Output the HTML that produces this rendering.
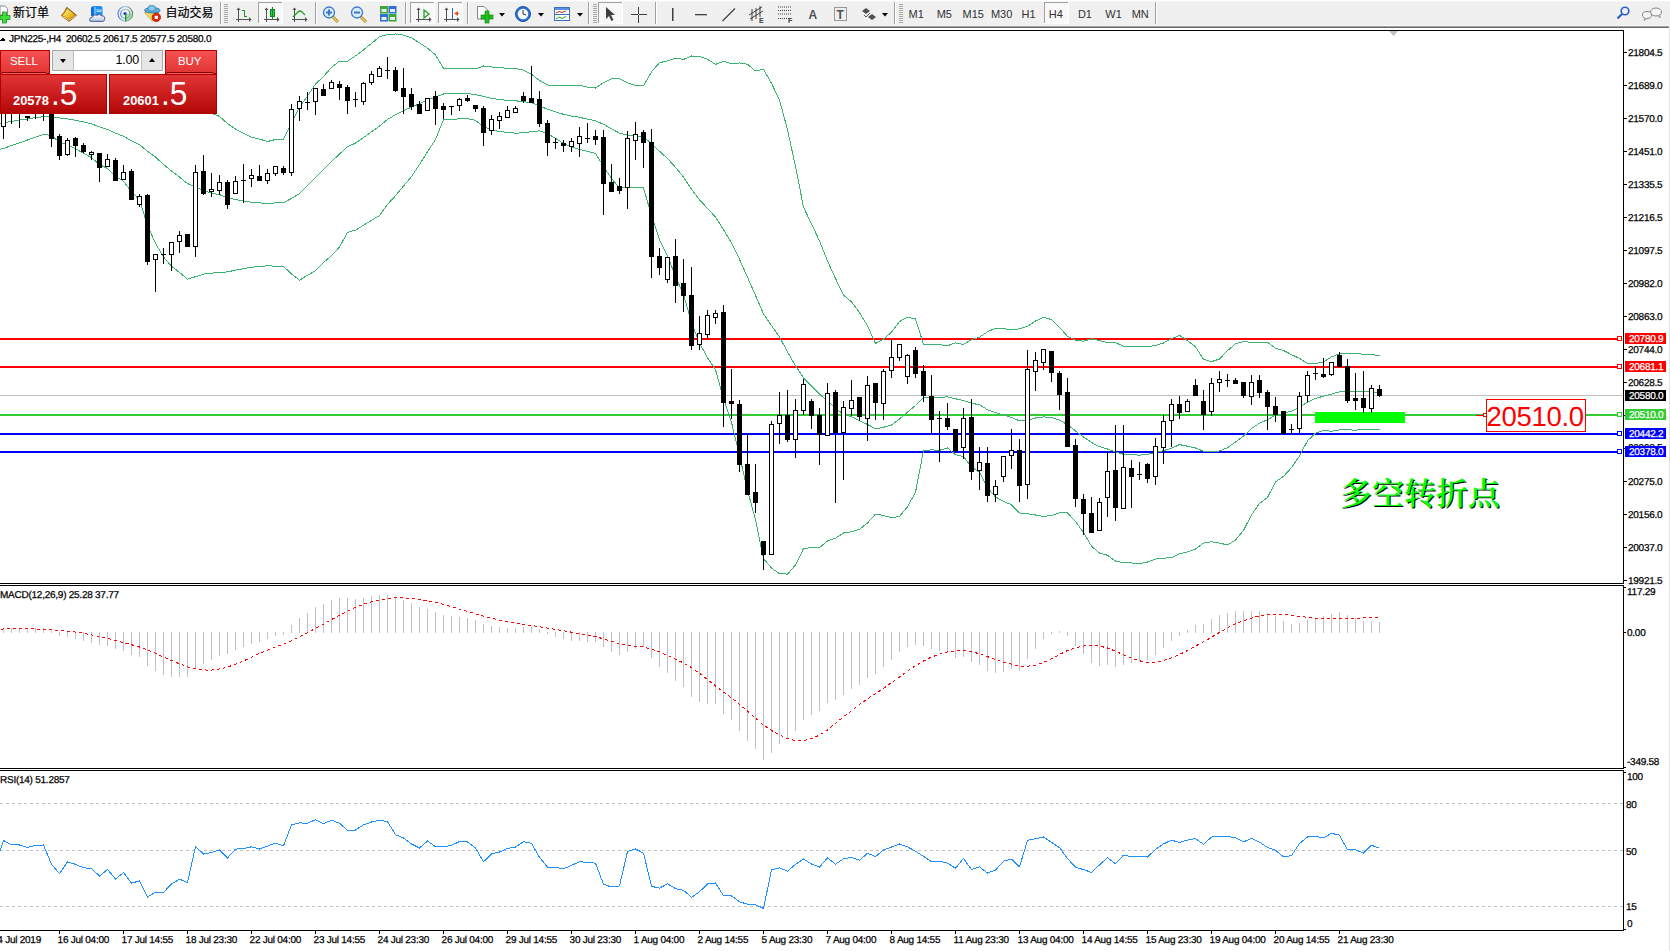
<!DOCTYPE html>
<html><head><meta charset="utf-8"><title>JPN225 H4</title>
<style>
html,body{margin:0;padding:0}
body{width:1670px;height:951px;overflow:hidden;background:#fff;position:relative;font-family:"Liberation Sans","Noto Sans CJK SC",sans-serif}
#tb{position:absolute;left:0;top:0;width:1670px;height:28px;background:#f0f0f0}
#chart{position:absolute;left:0;top:0}
#chart text{font-family:"Liberation Sans",sans-serif;font-size:10px;letter-spacing:-0.25px;fill:#000;stroke:#000;stroke-width:0.25px}
#tbs text.cj{font-family:"Liberation Sans","Noto Sans CJK SC",sans-serif;font-size:12px;fill:#000;stroke:#000;stroke-width:0.2px}
#tbs text.tf{font-family:"Liberation Sans",sans-serif;font-size:11px;fill:#303030}
#tbs text.tbs{font-family:"Liberation Sans",sans-serif;font-size:7px;font-weight:bold;fill:#404040}
#tbs text.tba{font-family:"Liberation Sans",sans-serif;font-size:12px;font-weight:bold;fill:#505050}

#pn{position:absolute;left:0;top:50px;width:217px;height:64px;background:#fff;font-family:"Liberation Sans",sans-serif;color:#fff}
#pn .sb{position:absolute;top:0;height:24px;background:linear-gradient(#f75252,#e23434);box-shadow:inset 0 0 0 1px #b40000}
#pn .sell{left:0;width:50px}
#pn .buy{left:165px;width:52px}
#pn .sb span{position:absolute;top:5px;font-size:11.5px;letter-spacing:-0.1px}
#pn .sell span{left:10px}
#pn .buy span{left:13px}
#pn .sb i{position:absolute;left:2px;right:4px;top:22px;height:1px;background:#8a0000;box-shadow:0 1px 0 #f06060}
#pn .spin{position:absolute;left:52px;top:0;width:111px;height:21px;border:1px solid #a8a8a8;box-sizing:border-box;background:#fff}
#pn .bl,#pn .br{position:absolute;top:0;width:20px;height:19px;background:#e6e6e6}
#pn .bl{left:0;border-right:1px solid #c0c0c0}
#pn .br{right:0;border-left:1px solid #c0c0c0}
#pn .dn{position:absolute;left:7px;top:8px;width:0;height:0;border-left:3.5px solid transparent;border-right:3.5px solid transparent;border-top:4px solid #000}
#pn .up{position:absolute;left:7px;top:7px;width:0;height:0;border-left:3.5px solid transparent;border-right:3.5px solid transparent;border-bottom:4px solid #000}
#pn .inp{position:absolute;left:21px;width:65px;top:2px;text-align:right;color:#000;font-size:12.5px;letter-spacing:-0.2px}
#pn .big{position:absolute;top:24px;height:40px;background:linear-gradient(#e33636,#b20606);box-shadow:inset 0 0 0 1px #b00000}
#pn .big.l{left:0;width:107px}
#pn .big.r{left:109px;width:108px}
#pn .n{position:absolute;top:19.2px;font-size:12.9px;font-weight:bold}
#pn .d{position:absolute;top:-0.5px;font-size:34px;transform:scaleX(0.93);transform-origin:0 0}
#pn .l .n{left:13px} #pn .l .d{left:50.5px}
#pn .r .n{left:14px} #pn .r .d{left:52px}

.rc{position:absolute;right:0;top:28px;width:1px;height:923px;background:#e3e3e3}
</style></head><body>
<div id="tb"><svg id="tbs" width="1670" height="28" shape-rendering="geometricPrecision"><rect x="0" y="0" width="1670" height="1" fill="#ffffff"/>
<rect x="0" y="1" width="1670" height="1" fill="#f6f6f6"/>
<rect x="0" y="25" width="1670" height="1" fill="#f7f7f7"/>
<rect x="0" y="26" width="1669" height="1" fill="#a0a0a0"/>
<rect x="0" y="27" width="1669" height="1" fill="#6a6a6a"/>
<path d="M0,6 L5,6 L7.5,8.5 L7.5,15 L0,15 Z" fill="#fff" stroke="#909090" stroke-width="1"/>
<rect x="0" y="15.5" width="10" height="4" fill="#1ec31e" stroke="#0a7a0a" stroke-width="0.6"/><rect x="2.5" y="12" width="4" height="11" fill="#1ec31e" stroke="#0a7a0a" stroke-width="0.6"/><rect x="0.5" y="16" width="9" height="3" fill="#3ee03e"/><rect x="3" y="12.5" width="3" height="10" fill="#3ee03e"/>
<defs><linearGradient id="bkg" x1="0" y1="0" x2="1" y2="1"><stop offset="0" stop-color="#fff2a0"/><stop offset="0.5" stop-color="#f0c830"/><stop offset="1" stop-color="#d8a010"/></linearGradient><linearGradient id="clg" x1="0" y1="0" x2="0" y2="1"><stop offset="0" stop-color="#ffffff"/><stop offset="1" stop-color="#b8c4dc"/></linearGradient></defs>
<path d="M61.3,15.6 L64.6,11.8 L66.7,7.3 L76.6,15.3 L69,21.4 Z" fill="#b07818" stroke="#9a5a08" stroke-width="0.9" stroke-linejoin="round"/>
<path d="M62.6,15.2 L65.4,12 L67.2,8.8 L74.6,14.8 L68.6,19.2 Z" fill="url(#bkg)"/>
<path d="M62.5,16.2 L68.8,20.4 L75.6,15.6" fill="none" stroke="#e8d8a0" stroke-width="0.9"/>
<path d="M91,7.5 L93,6 L101,6 L102.5,7.5 L102.5,16 L91,16 Z" fill="#1f8ef0"/><path d="M91,7.5 L94.5,7.5 L94.5,16 L91,16 Z" fill="#0c6fd8"/><rect x="94.5" y="7" width="0.8" height="9" fill="#d8f0ff"/><rect x="96.5" y="10.5" width="5" height="1.2" fill="#e8f6ff"/><rect x="95.5" y="9" width="6.5" height="0.8" fill="#6cc0ff"/>
<path d="M90,21.2 Q88.6,17.4 92.4,17.2 Q93.6,14.2 97.2,15.2 Q99.6,13.4 101.6,15.8 Q105.4,15.8 104.6,19.6 Q104.4,21.2 102.6,21.4 Z" fill="url(#clg)" stroke="#3c5a98" stroke-width="1"/>
<defs><linearGradient id="sgg" x1="0" y1="0" x2="1" y2="0"><stop offset="0" stop-color="#4a7ad8"/><stop offset="0.5" stop-color="#a8c8e8"/><stop offset="1" stop-color="#3a8a5a"/></linearGradient></defs>
<circle cx="125.3" cy="13.8" r="7.3" fill="none" stroke="url(#sgg)" stroke-width="1.1"/><circle cx="125.3" cy="13.8" r="4.6" fill="none" stroke="url(#sgg)" stroke-width="1.1"/>
<path d="M125.3,13.8 L125.3,21.1 A7.3,7.3 0 0 0 132.6,13.8 Z" fill="#8cc890" opacity="0.55"/>
<circle cx="125" cy="13.6" r="1.7" fill="#2050c8"/><rect x="125" y="14" width="1.4" height="7.6" fill="#18a018"/>
<path d="M144.5,12.5 L159,12.5 L152.5,21.5 Z" fill="#f6e060" stroke="#c8a028" stroke-width="0.8" stroke-linejoin="round"/>
<ellipse cx="152.3" cy="10.3" rx="7.8" ry="2.7" fill="#5cb0e0" stroke="#2a78a8" stroke-width="0.9"/><ellipse cx="151.8" cy="8.4" rx="3.9" ry="3" fill="#84c8f0" stroke="#2a78a8" stroke-width="0.8"/>
<circle cx="156.3" cy="17.4" r="4.2" fill="#e02a10" stroke="#b01000" stroke-width="0.8"/><rect x="154.7" y="15.8" width="3.2" height="3.2" fill="#fff"/>
<text x="13" y="17" class="cj">新订单</text>
<text x="165.5" y="17" class="cj">自动交易</text>
<rect x="220" y="2" width="1" height="22" fill="#a0a0a0"/><rect x="221" y="2" width="1" height="22" fill="#fff"/>
<rect x="224" y="4" width="4" height="1" fill="#a8a8a8"/>
<rect x="224" y="6" width="4" height="1" fill="#a8a8a8"/>
<rect x="224" y="8" width="4" height="1" fill="#a8a8a8"/>
<rect x="224" y="10" width="4" height="1" fill="#a8a8a8"/>
<rect x="224" y="12" width="4" height="1" fill="#a8a8a8"/>
<rect x="224" y="14" width="4" height="1" fill="#a8a8a8"/>
<rect x="224" y="16" width="4" height="1" fill="#a8a8a8"/>
<rect x="224" y="18" width="4" height="1" fill="#a8a8a8"/>
<rect x="224" y="20" width="4" height="1" fill="#a8a8a8"/>
<rect x="224" y="22" width="4" height="1" fill="#a8a8a8"/>
<rect x="238" y="8" width="1" height="14" fill="#505050"/><rect x="236" y="19" width="14" height="1" fill="#505050"/>
<path d="M236.5,10 L238.5,7.5 L240.5,10 Z" fill="#505050"/>
<path d="M249,17 L251.5,19.5 L249,22 Z" fill="#505050"/>
<rect x="244" y="10" width="1" height="7" fill="#1a9a1a"/><rect x="242" y="10" width="2" height="1" fill="#1a9a1a"/><rect x="245" y="16" width="2" height="1" fill="#1a9a1a"/>
<rect x="258" y="2" width="25" height="22" fill="#f8f8f8"/>
<rect x="258" y="2" width="25" height="1" fill="#a0a0a0"/><rect x="258" y="2" width="1" height="22" fill="#a0a0a0"/>
<rect x="258" y="23" width="25" height="1" fill="#fff"/><rect x="282" y="2" width="1" height="22" fill="#fff"/>
<rect x="266" y="8" width="1" height="14" fill="#505050"/><rect x="264" y="19" width="14" height="1" fill="#505050"/>
<path d="M264.5,10 L266.5,7.5 L268.5,10 Z" fill="#505050"/>
<path d="M277,17 L279.5,19.5 L277,22 Z" fill="#505050"/>
<rect x="270.5" y="9.5" width="4" height="7" fill="#20d040" stroke="#108a20" stroke-width="1"/><rect x="272" y="7" width="1" height="13" fill="#108a20"/>
<rect x="294" y="8" width="1" height="14" fill="#505050"/><rect x="292" y="19" width="14" height="1" fill="#505050"/>
<path d="M292.5,10 L294.5,7.5 L296.5,10 Z" fill="#505050"/>
<path d="M305,17 L307.5,19.5 L305,22 Z" fill="#505050"/>
<path d="M293,17 L298,12 Q300,10 302,12 L305,15" fill="none" stroke="#20a020" stroke-width="1.2"/>
<rect x="315" y="2" width="1" height="22" fill="#a0a0a0"/><rect x="316" y="2" width="1" height="22" fill="#fff"/>

<line x1="332" y1="16" x2="338" y2="22" stroke="#a08020" stroke-width="3"/><line x1="332" y1="16" x2="338" y2="22" stroke="#f0d060" stroke-width="1.5"/>
<circle cx="329" cy="12.5" r="5.5" fill="#d8ecfa" stroke="#3c78c8" stroke-width="1.3"/>
<rect x="326" y="11.5" width="6" height="2" fill="#3c78c8"/>
<rect x="328" y="9.5" width="2" height="6" fill="#3c78c8"/>

<line x1="360" y1="16" x2="366" y2="22" stroke="#a08020" stroke-width="3"/><line x1="360" y1="16" x2="366" y2="22" stroke="#f0d060" stroke-width="1.5"/>
<circle cx="357" cy="12.5" r="5.5" fill="#d8ecfa" stroke="#3c78c8" stroke-width="1.3"/>
<rect x="354" y="11.5" width="6" height="2" fill="#3c78c8"/>
<rect x="380" y="6" width="8" height="7.5" fill="#3aa83a"/><rect x="388.5" y="6" width="8" height="7.5" fill="#2f6fd8"/><rect x="380" y="14" width="8" height="7.5" fill="#2f6fd8"/><rect x="388.5" y="14" width="8" height="7.5" fill="#3aa83a"/>
<rect x="381.5" y="9" width="5" height="3" fill="#e8f0e8"/>
<rect x="390" y="9" width="5" height="3" fill="#e8f0e8"/>
<rect x="381.5" y="17" width="5" height="3" fill="#e8f0e8"/>
<rect x="390" y="17" width="5" height="3" fill="#e8f0e8"/>
<rect x="405" y="2" width="1" height="22" fill="#a0a0a0"/><rect x="406" y="2" width="1" height="22" fill="#fff"/>
<rect x="410" y="2" width="25" height="22" fill="#f8f8f8"/>
<rect x="410" y="2" width="25" height="1" fill="#a0a0a0"/><rect x="410" y="2" width="1" height="22" fill="#a0a0a0"/>
<rect x="410" y="23" width="25" height="1" fill="#fff"/><rect x="434" y="2" width="1" height="22" fill="#fff"/>
<rect x="418" y="8" width="1" height="14" fill="#505050"/><rect x="416" y="19" width="14" height="1" fill="#505050"/>
<path d="M416.5,10 L418.5,7.5 L420.5,10 Z" fill="#505050"/>
<path d="M429,17 L431.5,19.5 L429,22 Z" fill="#505050"/>
<path d="M424,10 L429,14 L424,18 Z" fill="none" stroke="#20a020" stroke-width="1.3"/>
<rect x="438" y="2" width="25" height="22" fill="#f8f8f8"/>
<rect x="438" y="2" width="25" height="1" fill="#a0a0a0"/><rect x="438" y="2" width="1" height="22" fill="#a0a0a0"/>
<rect x="438" y="23" width="25" height="1" fill="#fff"/><rect x="462" y="2" width="1" height="22" fill="#fff"/>
<rect x="446" y="8" width="1" height="14" fill="#505050"/><rect x="444" y="19" width="14" height="1" fill="#505050"/>
<path d="M444.5,10 L446.5,7.5 L448.5,10 Z" fill="#505050"/>
<path d="M457,17 L459.5,19.5 L457,22 Z" fill="#505050"/>
<rect x="452" y="8" width="1" height="11" fill="#2a6ab8"/><path d="M454,13.5 L458,11 L458,16 Z" fill="#e06010"/><rect x="457" y="13" width="2" height="1" fill="#e06010"/>
<rect x="467" y="2" width="1" height="22" fill="#a0a0a0"/><rect x="468" y="2" width="1" height="22" fill="#fff"/>
<path d="M477.5,6.5 L484,6.5 L487.5,10 L487.5,19 L477.5,19 Z" fill="#fff" stroke="#808080" stroke-width="1"/>
<rect x="481" y="15" width="12" height="4" fill="#1ec31e" stroke="#0a7a0a" stroke-width="0.6"/><rect x="485" y="11" width="4" height="12" fill="#1ec31e" stroke="#0a7a0a" stroke-width="0.6"/>
<path d="M499,13 L505,13 L502,16.5 Z" fill="#000"/>
<circle cx="523" cy="14" r="7.5" fill="#2a70d0" stroke="#1a50a0" stroke-width="1"/><circle cx="523" cy="14" r="5.3" fill="#f4f8ff"/><path d="M523,10 L523,14 L526,15" fill="none" stroke="#333" stroke-width="1"/>
<path d="M538,13 L544,13 L541,16.5 Z" fill="#000"/>
<rect x="554.5" y="7.5" width="15" height="13" fill="#fff" stroke="#3a70c0" stroke-width="1"/><rect x="555" y="8" width="14" height="2" fill="#5a90e0"/><rect x="555" y="14" width="14" height="1" fill="#3a70c0"/>
<path d="M556,13 L559,11.5 L562,12.5 L566,11" fill="none" stroke="#c03020" stroke-width="1"/><path d="M556,19 L559,17 L562,18.5 L566,16.5" fill="none" stroke="#20a020" stroke-width="1"/>
<path d="M577,13 L583,13 L580,16.5 Z" fill="#000"/>
<rect x="588" y="2" width="1" height="22" fill="#a0a0a0"/><rect x="589" y="2" width="1" height="22" fill="#fff"/>
<rect x="593" y="4" width="4" height="1" fill="#a8a8a8"/>
<rect x="593" y="6" width="4" height="1" fill="#a8a8a8"/>
<rect x="593" y="8" width="4" height="1" fill="#a8a8a8"/>
<rect x="593" y="10" width="4" height="1" fill="#a8a8a8"/>
<rect x="593" y="12" width="4" height="1" fill="#a8a8a8"/>
<rect x="593" y="14" width="4" height="1" fill="#a8a8a8"/>
<rect x="593" y="16" width="4" height="1" fill="#a8a8a8"/>
<rect x="593" y="18" width="4" height="1" fill="#a8a8a8"/>
<rect x="593" y="20" width="4" height="1" fill="#a8a8a8"/>
<rect x="593" y="22" width="4" height="1" fill="#a8a8a8"/>
<rect x="598" y="2" width="25" height="22" fill="#f8f8f8"/>
<rect x="598" y="2" width="25" height="1" fill="#a0a0a0"/><rect x="598" y="2" width="1" height="22" fill="#a0a0a0"/>
<rect x="598" y="23" width="25" height="1" fill="#fff"/><rect x="622" y="2" width="1" height="22" fill="#fff"/>
<path d="M606,7 L606,19 L609,16 L611.5,21 L613.5,20 L611,15 L615,15 Z" fill="#404040"/>
<rect x="638" y="7" width="1" height="16" fill="#404040"/><rect x="631" y="14" width="16" height="1" fill="#404040"/><rect x="638" y="14" width="1" height="1" fill="#f0f0f0"/>
<rect x="655" y="2" width="1" height="22" fill="#a0a0a0"/><rect x="656" y="2" width="1" height="22" fill="#fff"/>
<rect x="672" y="8" width="1.5" height="13" fill="#404040"/>
<rect x="695" y="14" width="12" height="1.3" fill="#404040"/>
<line x1="722.5" y1="21" x2="735" y2="8.5" stroke="#404040" stroke-width="1.2"/>
<path d="M749,15 L762,7 M750,19 L763,11 M752,9 L752,21 M756,8 L756,19 M760,6 L760,17" fill="none" stroke="#404040" stroke-width="1"/>
<text x="759" y="23" class="tbs">E</text>
<line x1="778" y1="7" x2="791" y2="7" stroke="#404040" stroke-width="1" stroke-dasharray="1 1"/>
<line x1="778" y1="10.5" x2="791" y2="10.5" stroke="#404040" stroke-width="1" stroke-dasharray="1 1"/>
<line x1="778" y1="14" x2="791" y2="14" stroke="#404040" stroke-width="1" stroke-dasharray="1 1"/>
<line x1="778" y1="18.5" x2="791" y2="18.5" stroke="#404040" stroke-width="1" stroke-dasharray="1 1"/>
<text x="788" y="23" class="tbs">F</text>
<text x="808.5" y="19" class="tba">A</text>
<rect x="834.5" y="7.5" width="12" height="13" fill="none" stroke="#404040" stroke-width="1" stroke-dasharray="1 1"/><text x="836.5" y="19" class="tba">T</text>
<path d="M862,11 L866,8 L870,11 L866,14 Z M868,17 L872,14 L876,17 L872,20 Z" fill="#505050"/><path d="M864,15 L866,17 L870,13" fill="none" stroke="#505050" stroke-width="1"/>
<path d="M882,13 L888,13 L885,16.5 Z" fill="#000"/>
<rect x="894" y="2" width="1" height="22" fill="#a0a0a0"/><rect x="895" y="2" width="1" height="22" fill="#fff"/>
<rect x="899" y="4" width="4" height="1" fill="#a8a8a8"/>
<rect x="899" y="6" width="4" height="1" fill="#a8a8a8"/>
<rect x="899" y="8" width="4" height="1" fill="#a8a8a8"/>
<rect x="899" y="10" width="4" height="1" fill="#a8a8a8"/>
<rect x="899" y="12" width="4" height="1" fill="#a8a8a8"/>
<rect x="899" y="14" width="4" height="1" fill="#a8a8a8"/>
<rect x="899" y="16" width="4" height="1" fill="#a8a8a8"/>
<rect x="899" y="18" width="4" height="1" fill="#a8a8a8"/>
<rect x="899" y="20" width="4" height="1" fill="#a8a8a8"/>
<rect x="899" y="22" width="4" height="1" fill="#a8a8a8"/>
<rect x="1044" y="2" width="25" height="22" fill="#f8f8f8"/>
<rect x="1044" y="2" width="25" height="1" fill="#a0a0a0"/><rect x="1044" y="2" width="1" height="22" fill="#a0a0a0"/>
<rect x="1044" y="23" width="25" height="1" fill="#fff"/><rect x="1068" y="2" width="1" height="22" fill="#fff"/>
<text x="908.6" y="18" class="tf">M1</text>
<text x="936.7" y="18" class="tf">M5</text>
<text x="962.6" y="18" class="tf">M15</text>
<text x="990.9000000000001" y="18" class="tf">M30</text>
<text x="1021.6" y="18" class="tf">H1</text>
<text x="1048.8" y="18" class="tf">H4</text>
<text x="1077.9" y="18" class="tf">D1</text>
<text x="1105.3" y="18" class="tf">W1</text>
<text x="1131.7" y="18" class="tf">MN</text>
<rect x="1155" y="2" width="1" height="22" fill="#a0a0a0"/><rect x="1156" y="2" width="1" height="22" fill="#fff"/>
<circle cx="1625" cy="11" r="3.8" fill="none" stroke="#2a5cc8" stroke-width="1.6"/><line x1="1622" y1="14" x2="1617.5" y2="18.5" stroke="#2a5cc8" stroke-width="2.2"/>
<ellipse cx="1656" cy="12" rx="5.5" ry="4" fill="#f4f4f4" stroke="#888" stroke-width="1"/><path d="M1658,15.5 L1660,18 L1660,15" fill="#ddd" stroke="#888" stroke-width="0.8"/>
<ellipse cx="1647" cy="15" rx="4.5" ry="3.5" fill="#f4f4f4" stroke="#888" stroke-width="1"/><path d="M1645,18 L1644,20.5 L1647.5,18.3" fill="#ddd" stroke="#888" stroke-width="0.8"/></svg></div>
<svg id="chart" width="1670" height="951" viewBox="0 0 1670 951" shape-rendering="crispEdges">
<rect x="0" y="338" width="1617" height="2" fill="#ff0000"/>
<rect x="0" y="366" width="1617" height="2" fill="#ff0000"/>
<rect x="0" y="395" width="1623" height="1" fill="#c0c0c0"/>
<rect x="0" y="414" width="1617" height="2" fill="#32cd32"/>
<rect x="0" y="433" width="1617" height="2" fill="#0000ff"/>
<rect x="0" y="451" width="1617" height="2" fill="#0000ff"/>
<rect x="1315" y="412" width="90" height="11" fill="#00ff00"/>
<rect x="1617.5" y="336.5" width="4" height="4" fill="#fff" stroke="#ff0000" stroke-width="1"/>
<rect x="1617.5" y="364.5" width="4" height="4" fill="#fff" stroke="#ff0000" stroke-width="1"/>
<rect x="1617.5" y="412.5" width="4" height="4" fill="#fff" stroke="#32cd32" stroke-width="1"/>
<rect x="1617.5" y="431.5" width="4" height="4" fill="#fff" stroke="#0000ff" stroke-width="1"/>
<rect x="1617.5" y="449.5" width="4" height="4" fill="#fff" stroke="#0000ff" stroke-width="1"/>
<polyline points="-4.5,98.9 3.5,97.5 11.5,97.3 19.5,97.3 27.5,97.8 35.5,98.2 43.5,98.7 51.5,98.1 59.5,93.7 67.5,92.8 75.5,91.8 83.5,90.6 91.5,90.2 99.5,89.1 107.5,90.3 115.5,89.9 123.5,91.5 131.5,89.9 139.5,89.3 147.5,77.1 155.5,71.0 163.5,71.9 171.5,75.7 179.5,81.8 187.5,88.0 195.5,96.4 203.5,107.0 211.5,113.2 219.5,116.4 227.5,123.6 235.5,129.0 243.5,133.4 251.5,137.2 259.5,139.1 267.5,141.5 275.5,139.5 283.5,139.4 291.5,122.9 299.5,107.0 307.5,96.1 315.5,84.0 323.5,76.5 331.5,67.4 339.5,61.1 347.5,61.2 355.5,55.9 363.5,49.9 371.5,43.4 379.5,36.7 387.5,34.5 395.5,34.0 403.5,35.1 411.5,37.7 419.5,42.9 427.5,48.2 435.5,54.9 443.5,68.3 451.5,68.4 459.5,68.5 467.5,68.5 475.5,68.8 483.5,66.0 491.5,67.0 499.5,67.9 507.5,68.1 515.5,68.4 523.5,70.2 531.5,74.2 539.5,80.5 547.5,85.0 555.5,85.3 563.5,85.2 571.5,85.1 579.5,85.1 587.5,87.1 595.5,88.0 603.5,82.6 611.5,78.7 619.5,78.6 627.5,82.7 635.5,85.4 643.5,85.9 651.5,71.8 659.5,62.7 667.5,60.9 675.5,58.3 683.5,59.4 691.5,56.0 699.5,56.4 707.5,59.3 715.5,64.4 723.5,61.3 731.5,63.6 739.5,63.0 747.5,64.2 755.5,71.0 763.5,69.3 771.5,83.3 779.5,100.1 787.5,129.7 795.5,166.4 803.5,207.1 811.5,224.0 819.5,240.8 827.5,261.0 835.5,278.5 843.5,295.0 851.5,301.9 859.5,312.6 867.5,325.8 875.5,343.6 883.5,339.1 891.5,332.2 899.5,321.5 907.5,317.3 915.5,319.0 923.5,344.4 931.5,344.7 939.5,344.6 947.5,345.7 955.5,342.9 963.5,344.4 971.5,339.5 979.5,337.2 987.5,331.8 995.5,328.2 1003.5,328.5 1011.5,330.0 1019.5,328.7 1027.5,326.4 1035.5,321.0 1043.5,317.3 1051.5,319.6 1059.5,327.4 1067.5,336.3 1075.5,340.4 1083.5,341.2 1091.5,338.8 1099.5,340.5 1107.5,342.7 1115.5,342.7 1123.5,346.1 1131.5,346.1 1139.5,346.5 1147.5,346.6 1155.5,345.6 1163.5,343.0 1171.5,338.8 1179.5,335.4 1187.5,340.6 1195.5,346.9 1203.5,359.2 1211.5,361.7 1219.5,359.0 1227.5,350.6 1235.5,343.8 1243.5,341.6 1251.5,342.3 1259.5,342.5 1267.5,342.1 1275.5,348.4 1283.5,350.5 1291.5,354.6 1299.5,358.4 1307.5,363.5 1315.5,363.7 1323.5,361.8 1331.5,356.9 1339.5,353.7 1347.5,353.7 1355.5,353.8 1363.5,354.1 1371.5,354.5 1379.5,355.7" fill="none" stroke="#3cb371" stroke-width="1" />
<polyline points="-4.5,124.7 3.5,122.9 11.5,121.4 19.5,120.1 27.5,118.9 35.5,117.7 43.5,116.6 51.5,116.8 59.5,118.0 67.5,118.9 75.5,120.2 83.5,121.9 91.5,123.9 99.5,126.8 107.5,129.4 115.5,133.1 123.5,136.3 131.5,140.8 139.5,144.6 147.5,151.3 155.5,157.1 163.5,164.5 171.5,171.0 179.5,177.1 187.5,183.6 195.5,186.6 203.5,190.6 211.5,193.2 219.5,194.6 227.5,197.8 235.5,199.6 243.5,201.0 251.5,202.2 259.5,202.9 267.5,203.6 275.5,202.9 283.5,202.9 291.5,198.4 299.5,193.6 307.5,185.7 315.5,177.4 323.5,169.5 331.5,161.5 339.5,154.1 347.5,146.7 355.5,143.1 363.5,137.6 371.5,131.8 379.5,126.1 387.5,119.4 395.5,114.8 403.5,110.6 411.5,107.1 419.5,103.8 427.5,100.0 435.5,97.1 443.5,94.0 451.5,93.8 459.5,93.7 467.5,93.6 475.5,94.6 483.5,96.4 491.5,98.3 499.5,99.7 507.5,100.3 515.5,100.8 523.5,101.6 531.5,102.9 539.5,105.7 547.5,109.3 555.5,111.9 563.5,114.3 571.5,116.1 579.5,117.3 587.5,119.2 595.5,120.7 603.5,124.4 611.5,128.7 619.5,133.2 627.5,135.1 635.5,136.4 643.5,136.9 651.5,143.7 659.5,151.2 667.5,158.5 675.5,167.3 683.5,177.1 691.5,189.2 699.5,199.8 707.5,208.4 715.5,217.0 723.5,229.8 731.5,243.0 739.5,259.3 747.5,277.2 755.5,295.4 763.5,314.0 771.5,325.6 779.5,336.9 787.5,351.9 795.5,365.7 803.5,377.9 811.5,385.8 819.5,394.2 827.5,401.0 835.5,408.4 843.5,414.0 851.5,416.8 859.5,420.9 867.5,424.4 875.5,428.8 883.5,427.3 891.5,425.0 899.5,419.0 907.5,412.0 915.5,405.5 923.5,397.6 931.5,397.3 939.5,397.5 947.5,396.8 955.5,398.8 963.5,400.5 971.5,403.3 979.5,404.7 987.5,409.8 995.5,412.5 1003.5,415.0 1011.5,417.4 1019.5,420.9 1027.5,420.1 1035.5,418.0 1043.5,416.9 1051.5,417.6 1059.5,420.1 1067.5,424.7 1075.5,430.9 1083.5,436.9 1091.5,442.5 1099.5,446.7 1107.5,449.0 1115.5,451.9 1123.5,454.3 1131.5,454.6 1139.5,455.2 1147.5,454.3 1155.5,452.3 1163.5,450.6 1171.5,448.3 1179.5,444.6 1187.5,446.2 1195.5,448.0 1203.5,451.2 1211.5,451.8 1219.5,451.0 1227.5,447.7 1235.5,442.0 1243.5,436.0 1251.5,428.6 1259.5,423.1 1267.5,419.8 1275.5,415.2 1283.5,413.4 1291.5,411.1 1299.5,407.2 1307.5,402.1 1315.5,398.4 1323.5,396.2 1331.5,394.1 1339.5,391.8 1347.5,391.7 1355.5,392.0 1363.5,391.7 1371.5,391.9 1379.5,392.7" fill="none" stroke="#3cb371" stroke-width="1" />
<polyline points="-4.5,150.6 3.5,148.4 11.5,145.6 19.5,142.8 27.5,140.0 35.5,137.2 43.5,134.5 51.5,135.5 59.5,142.2 67.5,145.0 75.5,148.6 83.5,153.3 91.5,157.6 99.5,164.5 107.5,168.5 115.5,176.3 123.5,181.1 131.5,191.6 139.5,199.9 147.5,225.5 155.5,243.3 163.5,257.1 171.5,266.3 179.5,272.4 187.5,279.2 195.5,276.7 203.5,274.1 211.5,273.1 219.5,272.7 227.5,271.9 235.5,270.1 243.5,268.7 251.5,267.2 259.5,266.6 267.5,265.7 275.5,266.3 283.5,266.4 291.5,273.9 299.5,280.2 307.5,275.2 315.5,270.8 323.5,262.5 331.5,255.6 339.5,247.1 347.5,232.3 355.5,230.2 363.5,225.3 371.5,220.3 379.5,215.5 387.5,204.4 395.5,195.7 403.5,186.1 411.5,176.6 419.5,164.6 427.5,151.8 435.5,139.4 443.5,119.7 451.5,119.2 459.5,118.9 467.5,118.7 475.5,120.4 483.5,126.9 491.5,129.6 499.5,131.5 507.5,132.4 515.5,133.1 523.5,132.9 531.5,131.7 539.5,130.8 547.5,133.5 555.5,138.4 563.5,143.4 571.5,147.1 579.5,149.4 587.5,151.3 595.5,153.5 603.5,166.3 611.5,178.6 619.5,187.7 627.5,187.5 635.5,187.3 643.5,187.8 651.5,215.6 659.5,239.6 667.5,256.1 675.5,276.4 683.5,294.7 691.5,322.5 699.5,343.2 707.5,357.6 715.5,369.6 723.5,398.4 731.5,422.3 739.5,455.7 747.5,490.2 755.5,519.8 763.5,558.6 771.5,568.0 779.5,573.7 787.5,574.1 795.5,565.0 803.5,548.6 811.5,547.6 819.5,547.6 827.5,541.0 835.5,538.2 843.5,533.0 851.5,531.7 859.5,529.3 867.5,523.0 875.5,514.1 883.5,515.5 891.5,517.8 899.5,516.5 907.5,506.8 915.5,492.1 923.5,450.7 931.5,449.9 939.5,450.3 947.5,447.9 955.5,454.7 963.5,456.5 971.5,467.1 979.5,472.2 987.5,487.7 995.5,496.9 1003.5,501.4 1011.5,504.8 1019.5,513.0 1027.5,513.7 1035.5,515.0 1043.5,516.4 1051.5,515.6 1059.5,512.8 1067.5,513.0 1075.5,521.5 1083.5,532.5 1091.5,546.2 1099.5,553.0 1107.5,555.3 1115.5,561.1 1123.5,562.6 1131.5,563.0 1139.5,563.9 1147.5,562.0 1155.5,559.1 1163.5,558.1 1171.5,557.8 1179.5,553.9 1187.5,551.9 1195.5,549.0 1203.5,543.1 1211.5,541.8 1219.5,543.1 1227.5,544.9 1235.5,540.1 1243.5,530.5 1251.5,514.8 1259.5,503.6 1267.5,497.5 1275.5,481.9 1283.5,476.4 1291.5,467.6 1299.5,456.0 1307.5,440.7 1315.5,433.2 1323.5,430.5 1331.5,431.3 1339.5,430.0 1347.5,429.8 1355.5,430.2 1363.5,429.3 1371.5,429.4 1379.5,429.7" fill="none" stroke="#3cb371" stroke-width="1" />
<rect x="3" y="100" width="1" height="39" fill="#000"/>
<rect x="1.5" y="106.5" width="4" height="20" fill="#fff" stroke="#000" stroke-width="1"/>
<rect x="11" y="100" width="1" height="24" fill="#000"/>
<rect x="9" y="104" width="5" height="9" fill="#000"/>
<rect x="19" y="100" width="1" height="28" fill="#000"/>
<rect x="17" y="104" width="5" height="9" fill="#000"/>
<rect x="27" y="116" width="1" height="5" fill="#000"/>
<rect x="25" y="116" width="5" height="2" fill="#000"/>
<rect x="35" y="108" width="1" height="11" fill="#000"/>
<rect x="33" y="111" width="5" height="3" fill="#000"/>
<rect x="43" y="106" width="1" height="15" fill="#000"/>
<rect x="41" y="109" width="5" height="4" fill="#000"/>
<rect x="51" y="105" width="1" height="42" fill="#000"/>
<rect x="49" y="110" width="5" height="29" fill="#000"/>
<rect x="59" y="134" width="1" height="26" fill="#000"/>
<rect x="57" y="136" width="5" height="20" fill="#000"/>
<rect x="67" y="138" width="1" height="18" fill="#000"/>
<rect x="65.5" y="140.5" width="4" height="14" fill="#fff" stroke="#000" stroke-width="1"/>
<rect x="75" y="137" width="1" height="20" fill="#000"/>
<rect x="73" y="138" width="5" height="8" fill="#000"/>
<rect x="83" y="143" width="1" height="10" fill="#000"/>
<rect x="81" y="145" width="5" height="7" fill="#000"/>
<rect x="91" y="151" width="1" height="9" fill="#000"/>
<rect x="89.5" y="152.5" width="4" height="2" fill="#fff" stroke="#000" stroke-width="1"/>
<rect x="99" y="153" width="1" height="29" fill="#000"/>
<rect x="97" y="153" width="5" height="15" fill="#000"/>
<rect x="107" y="154" width="1" height="13" fill="#000"/>
<rect x="105.5" y="159.5" width="4" height="7" fill="#fff" stroke="#000" stroke-width="1"/>
<rect x="115" y="158" width="1" height="23" fill="#000"/>
<rect x="113" y="160" width="5" height="21" fill="#000"/>
<rect x="123" y="165" width="1" height="15" fill="#000"/>
<rect x="121.5" y="172.5" width="4" height="7" fill="#fff" stroke="#000" stroke-width="1"/>
<rect x="131" y="169" width="1" height="31" fill="#000"/>
<rect x="129" y="171" width="5" height="29" fill="#000"/>
<rect x="139" y="194" width="1" height="13" fill="#000"/>
<rect x="137.5" y="196.5" width="4" height="8" fill="#fff" stroke="#000" stroke-width="1"/>
<rect x="147" y="194" width="1" height="71" fill="#000"/>
<rect x="145" y="195" width="5" height="67" fill="#000"/>
<rect x="155" y="254" width="1" height="38" fill="#000"/>
<rect x="153.5" y="254.5" width="4" height="5" fill="#fff" stroke="#000" stroke-width="1"/>
<rect x="163" y="248" width="1" height="16" fill="#000"/>
<rect x="161" y="254" width="5" height="1" fill="#000"/>
<rect x="171" y="242" width="1" height="29" fill="#000"/>
<rect x="169.5" y="242.5" width="4" height="12" fill="#fff" stroke="#000" stroke-width="1"/>
<rect x="179" y="231" width="1" height="22" fill="#000"/>
<rect x="177.5" y="235.5" width="4" height="6" fill="#fff" stroke="#000" stroke-width="1"/>
<rect x="187" y="234" width="1" height="13" fill="#000"/>
<rect x="185" y="234" width="5" height="13" fill="#000"/>
<rect x="195" y="165" width="1" height="92" fill="#000"/>
<rect x="193.5" y="172.5" width="4" height="74" fill="#fff" stroke="#000" stroke-width="1"/>
<rect x="203" y="155" width="1" height="40" fill="#000"/>
<rect x="201" y="171" width="5" height="23" fill="#000"/>
<rect x="211" y="173" width="1" height="24" fill="#000"/>
<rect x="209.5" y="189.5" width="4" height="2" fill="#fff" stroke="#000" stroke-width="1"/>
<rect x="219" y="175" width="1" height="20" fill="#000"/>
<rect x="217.5" y="182.5" width="4" height="8" fill="#fff" stroke="#000" stroke-width="1"/>
<rect x="227" y="180" width="1" height="29" fill="#000"/>
<rect x="225" y="182" width="5" height="23" fill="#000"/>
<rect x="235" y="176" width="1" height="18" fill="#000"/>
<rect x="233.5" y="181.5" width="4" height="12" fill="#fff" stroke="#000" stroke-width="1"/>
<rect x="243" y="164" width="1" height="39" fill="#000"/>
<rect x="241" y="180" width="5" height="1" fill="#000"/>
<rect x="251" y="169" width="1" height="18" fill="#000"/>
<rect x="249.5" y="175.5" width="4" height="3" fill="#fff" stroke="#000" stroke-width="1"/>
<rect x="259" y="165" width="1" height="16" fill="#000"/>
<rect x="257" y="176" width="5" height="5" fill="#000"/>
<rect x="267" y="169" width="1" height="15" fill="#000"/>
<rect x="265.5" y="173.5" width="4" height="7" fill="#fff" stroke="#000" stroke-width="1"/>
<rect x="275" y="166" width="1" height="10" fill="#000"/>
<rect x="273.5" y="166.5" width="4" height="7" fill="#fff" stroke="#000" stroke-width="1"/>
<rect x="283" y="166" width="1" height="9" fill="#000"/>
<rect x="281" y="168" width="5" height="5" fill="#000"/>
<rect x="291" y="104" width="1" height="72" fill="#000"/>
<rect x="289.5" y="109.5" width="4" height="63" fill="#fff" stroke="#000" stroke-width="1"/>
<rect x="299" y="96" width="1" height="25" fill="#000"/>
<rect x="297.5" y="101.5" width="4" height="7" fill="#fff" stroke="#000" stroke-width="1"/>
<rect x="307" y="92" width="1" height="18" fill="#000"/>
<rect x="305" y="102" width="5" height="1" fill="#000"/>
<rect x="315" y="88" width="1" height="27" fill="#000"/>
<rect x="313.5" y="88.5" width="4" height="13" fill="#fff" stroke="#000" stroke-width="1"/>
<rect x="323" y="84" width="1" height="12" fill="#000"/>
<rect x="321" y="89" width="5" height="7" fill="#000"/>
<rect x="331" y="80" width="1" height="9" fill="#000"/>
<rect x="329.5" y="82.5" width="4" height="6" fill="#fff" stroke="#000" stroke-width="1"/>
<rect x="339" y="81" width="1" height="19" fill="#000"/>
<rect x="337" y="84" width="5" height="4" fill="#000"/>
<rect x="347" y="85" width="1" height="29" fill="#000"/>
<rect x="345" y="87" width="5" height="14" fill="#000"/>
<rect x="355" y="92" width="1" height="15" fill="#000"/>
<rect x="353" y="99" width="5" height="1" fill="#000"/>
<rect x="363" y="82" width="1" height="23" fill="#000"/>
<rect x="361.5" y="83.5" width="4" height="18" fill="#fff" stroke="#000" stroke-width="1"/>
<rect x="371" y="71" width="1" height="14" fill="#000"/>
<rect x="369.5" y="74.5" width="4" height="8" fill="#fff" stroke="#000" stroke-width="1"/>
<rect x="379" y="66" width="1" height="11" fill="#000"/>
<rect x="377.5" y="68.5" width="4" height="8" fill="#fff" stroke="#000" stroke-width="1"/>
<rect x="387" y="57" width="1" height="22" fill="#000"/>
<rect x="385" y="70" width="5" height="1" fill="#000"/>
<rect x="395" y="67" width="1" height="25" fill="#000"/>
<rect x="393" y="70" width="5" height="21" fill="#000"/>
<rect x="403" y="68" width="1" height="46" fill="#000"/>
<rect x="401" y="88" width="5" height="9" fill="#000"/>
<rect x="411" y="88" width="1" height="22" fill="#000"/>
<rect x="409" y="94" width="5" height="13" fill="#000"/>
<rect x="419" y="101" width="1" height="13" fill="#000"/>
<rect x="417" y="104" width="5" height="10" fill="#000"/>
<rect x="427" y="98" width="1" height="13" fill="#000"/>
<rect x="425.5" y="98.5" width="4" height="12" fill="#fff" stroke="#000" stroke-width="1"/>
<rect x="435" y="91" width="1" height="34" fill="#000"/>
<rect x="433" y="96" width="5" height="13" fill="#000"/>
<rect x="443" y="103" width="1" height="16" fill="#000"/>
<rect x="441" y="106" width="5" height="4" fill="#000"/>
<rect x="451" y="106" width="1" height="9" fill="#000"/>
<rect x="449" y="106" width="5" height="1" fill="#000"/>
<rect x="459" y="98" width="1" height="13" fill="#000"/>
<rect x="457.5" y="99.5" width="4" height="6" fill="#fff" stroke="#000" stroke-width="1"/>
<rect x="467" y="95" width="1" height="7" fill="#000"/>
<rect x="465" y="98" width="5" height="3" fill="#000"/>
<rect x="475" y="105" width="1" height="7" fill="#000"/>
<rect x="473" y="105" width="5" height="4" fill="#000"/>
<rect x="483" y="106" width="1" height="40" fill="#000"/>
<rect x="481" y="108" width="5" height="25" fill="#000"/>
<rect x="491" y="115" width="1" height="20" fill="#000"/>
<rect x="489.5" y="119.5" width="4" height="11" fill="#fff" stroke="#000" stroke-width="1"/>
<rect x="499" y="112" width="1" height="17" fill="#000"/>
<rect x="497.5" y="116.5" width="4" height="4" fill="#fff" stroke="#000" stroke-width="1"/>
<rect x="507" y="106" width="1" height="12" fill="#000"/>
<rect x="505.5" y="110.5" width="4" height="7" fill="#fff" stroke="#000" stroke-width="1"/>
<rect x="515" y="106" width="1" height="7" fill="#000"/>
<rect x="513.5" y="108.5" width="4" height="4" fill="#fff" stroke="#000" stroke-width="1"/>
<rect x="523" y="92" width="1" height="11" fill="#000"/>
<rect x="521" y="96" width="5" height="5" fill="#000"/>
<rect x="531" y="66" width="1" height="37" fill="#000"/>
<rect x="529" y="98" width="5" height="5" fill="#000"/>
<rect x="539" y="91" width="1" height="36" fill="#000"/>
<rect x="537" y="99" width="5" height="25" fill="#000"/>
<rect x="547" y="120" width="1" height="36" fill="#000"/>
<rect x="545" y="123" width="5" height="20" fill="#000"/>
<rect x="555" y="138" width="1" height="11" fill="#000"/>
<rect x="553" y="142" width="5" height="1" fill="#000"/>
<rect x="563" y="140" width="1" height="12" fill="#000"/>
<rect x="561" y="143" width="5" height="3" fill="#000"/>
<rect x="571" y="138" width="1" height="14" fill="#000"/>
<rect x="569.5" y="141.5" width="4" height="5" fill="#fff" stroke="#000" stroke-width="1"/>
<rect x="579" y="127" width="1" height="30" fill="#000"/>
<rect x="577.5" y="136.5" width="4" height="7" fill="#fff" stroke="#000" stroke-width="1"/>
<rect x="587" y="123" width="1" height="20" fill="#000"/>
<rect x="585" y="138" width="5" height="1" fill="#000"/>
<rect x="595" y="130" width="1" height="15" fill="#000"/>
<rect x="593" y="136" width="5" height="4" fill="#000"/>
<rect x="603" y="130" width="1" height="85" fill="#000"/>
<rect x="601" y="137" width="5" height="47" fill="#000"/>
<rect x="611" y="164" width="1" height="28" fill="#000"/>
<rect x="609" y="182" width="5" height="10" fill="#000"/>
<rect x="619" y="178" width="1" height="16" fill="#000"/>
<rect x="617" y="186" width="5" height="5" fill="#000"/>
<rect x="627" y="131" width="1" height="78" fill="#000"/>
<rect x="625.5" y="138.5" width="4" height="49" fill="#fff" stroke="#000" stroke-width="1"/>
<rect x="635" y="122" width="1" height="38" fill="#000"/>
<rect x="633.5" y="134.5" width="4" height="6" fill="#fff" stroke="#000" stroke-width="1"/>
<rect x="643" y="130" width="1" height="38" fill="#000"/>
<rect x="641" y="132" width="5" height="11" fill="#000"/>
<rect x="651" y="129" width="1" height="149" fill="#000"/>
<rect x="649" y="142" width="5" height="115" fill="#000"/>
<rect x="659" y="248" width="1" height="27" fill="#000"/>
<rect x="657" y="256" width="5" height="12" fill="#000"/>
<rect x="667" y="257" width="1" height="26" fill="#000"/>
<rect x="665.5" y="257.5" width="4" height="22" fill="#fff" stroke="#000" stroke-width="1"/>
<rect x="675" y="239" width="1" height="64" fill="#000"/>
<rect x="673" y="256" width="5" height="30" fill="#000"/>
<rect x="683" y="259" width="1" height="53" fill="#000"/>
<rect x="681" y="283" width="5" height="13" fill="#000"/>
<rect x="691" y="267" width="1" height="83" fill="#000"/>
<rect x="689" y="295" width="5" height="51" fill="#000"/>
<rect x="699" y="316" width="1" height="34" fill="#000"/>
<rect x="697.5" y="333.5" width="4" height="11" fill="#fff" stroke="#000" stroke-width="1"/>
<rect x="707" y="310" width="1" height="29" fill="#000"/>
<rect x="705.5" y="315.5" width="4" height="19" fill="#fff" stroke="#000" stroke-width="1"/>
<rect x="715" y="310" width="1" height="14" fill="#000"/>
<rect x="713.5" y="313.5" width="4" height="4" fill="#fff" stroke="#000" stroke-width="1"/>
<rect x="723" y="305" width="1" height="122" fill="#000"/>
<rect x="721" y="312" width="5" height="91" fill="#000"/>
<rect x="731" y="369" width="1" height="50" fill="#000"/>
<rect x="729" y="401" width="5" height="3" fill="#000"/>
<rect x="739" y="400" width="1" height="72" fill="#000"/>
<rect x="737" y="404" width="5" height="61" fill="#000"/>
<rect x="747" y="434" width="1" height="61" fill="#000"/>
<rect x="745" y="464" width="5" height="31" fill="#000"/>
<rect x="755" y="464" width="1" height="49" fill="#000"/>
<rect x="753" y="492" width="5" height="11" fill="#000"/>
<rect x="763" y="541" width="1" height="29" fill="#000"/>
<rect x="761" y="541" width="5" height="14" fill="#000"/>
<rect x="771" y="421" width="1" height="134" fill="#000"/>
<rect x="769.5" y="424.5" width="4" height="130" fill="#fff" stroke="#000" stroke-width="1"/>
<rect x="779" y="392" width="1" height="52" fill="#000"/>
<rect x="777.5" y="415.5" width="4" height="8" fill="#fff" stroke="#000" stroke-width="1"/>
<rect x="787" y="390" width="1" height="52" fill="#000"/>
<rect x="785" y="415" width="5" height="25" fill="#000"/>
<rect x="795" y="399" width="1" height="59" fill="#000"/>
<rect x="793.5" y="410.5" width="4" height="29" fill="#fff" stroke="#000" stroke-width="1"/>
<rect x="803" y="379" width="1" height="36" fill="#000"/>
<rect x="801.5" y="384.5" width="4" height="26" fill="#fff" stroke="#000" stroke-width="1"/>
<rect x="811" y="399" width="1" height="30" fill="#000"/>
<rect x="809" y="401" width="5" height="15" fill="#000"/>
<rect x="819" y="408" width="1" height="57" fill="#000"/>
<rect x="817" y="415" width="5" height="20" fill="#000"/>
<rect x="827" y="383" width="1" height="53" fill="#000"/>
<rect x="825.5" y="393.5" width="4" height="42" fill="#fff" stroke="#000" stroke-width="1"/>
<rect x="835" y="390" width="1" height="113" fill="#000"/>
<rect x="833" y="392" width="5" height="41" fill="#000"/>
<rect x="843" y="401" width="1" height="79" fill="#000"/>
<rect x="841.5" y="407.5" width="4" height="25" fill="#fff" stroke="#000" stroke-width="1"/>
<rect x="851" y="380" width="1" height="36" fill="#000"/>
<rect x="849.5" y="400.5" width="4" height="8" fill="#fff" stroke="#000" stroke-width="1"/>
<rect x="859" y="397" width="1" height="24" fill="#000"/>
<rect x="857" y="397" width="5" height="20" fill="#000"/>
<rect x="867" y="376" width="1" height="65" fill="#000"/>
<rect x="865.5" y="385.5" width="4" height="33" fill="#fff" stroke="#000" stroke-width="1"/>
<rect x="875" y="383" width="1" height="37" fill="#000"/>
<rect x="873" y="383" width="5" height="20" fill="#000"/>
<rect x="883" y="369" width="1" height="51" fill="#000"/>
<rect x="881.5" y="371.5" width="4" height="32" fill="#fff" stroke="#000" stroke-width="1"/>
<rect x="891" y="340" width="1" height="38" fill="#000"/>
<rect x="889.5" y="357.5" width="4" height="13" fill="#fff" stroke="#000" stroke-width="1"/>
<rect x="899" y="344" width="1" height="17" fill="#000"/>
<rect x="897.5" y="344.5" width="4" height="13" fill="#fff" stroke="#000" stroke-width="1"/>
<rect x="907" y="354" width="1" height="30" fill="#000"/>
<rect x="905.5" y="355.5" width="4" height="21" fill="#fff" stroke="#000" stroke-width="1"/>
<rect x="915" y="347" width="1" height="31" fill="#000"/>
<rect x="913" y="350" width="5" height="24" fill="#000"/>
<rect x="923" y="365" width="1" height="37" fill="#000"/>
<rect x="921" y="371" width="5" height="25" fill="#000"/>
<rect x="931" y="375" width="1" height="59" fill="#000"/>
<rect x="929" y="396" width="5" height="24" fill="#000"/>
<rect x="939" y="411" width="1" height="51" fill="#000"/>
<rect x="937" y="418" width="5" height="1" fill="#000"/>
<rect x="947" y="403" width="1" height="27" fill="#000"/>
<rect x="945" y="418" width="5" height="9" fill="#000"/>
<rect x="955" y="429" width="1" height="24" fill="#000"/>
<rect x="953" y="429" width="5" height="22" fill="#000"/>
<rect x="963" y="408" width="1" height="51" fill="#000"/>
<rect x="961.5" y="418.5" width="4" height="29" fill="#fff" stroke="#000" stroke-width="1"/>
<rect x="971" y="399" width="1" height="81" fill="#000"/>
<rect x="969" y="417" width="5" height="55" fill="#000"/>
<rect x="979" y="447" width="1" height="43" fill="#000"/>
<rect x="977.5" y="462.5" width="4" height="8" fill="#fff" stroke="#000" stroke-width="1"/>
<rect x="987" y="447" width="1" height="55" fill="#000"/>
<rect x="985" y="463" width="5" height="33" fill="#000"/>
<rect x="995" y="480" width="1" height="22" fill="#000"/>
<rect x="993.5" y="486.5" width="4" height="8" fill="#fff" stroke="#000" stroke-width="1"/>
<rect x="1003" y="456" width="1" height="26" fill="#000"/>
<rect x="1001.5" y="456.5" width="4" height="20" fill="#fff" stroke="#000" stroke-width="1"/>
<rect x="1011" y="429" width="1" height="40" fill="#000"/>
<rect x="1009.5" y="450.5" width="4" height="5" fill="#fff" stroke="#000" stroke-width="1"/>
<rect x="1019" y="439" width="1" height="63" fill="#000"/>
<rect x="1017" y="450" width="5" height="36" fill="#000"/>
<rect x="1027" y="350" width="1" height="149" fill="#000"/>
<rect x="1025.5" y="369.5" width="4" height="115" fill="#fff" stroke="#000" stroke-width="1"/>
<rect x="1035" y="352" width="1" height="39" fill="#000"/>
<rect x="1033.5" y="360.5" width="4" height="11" fill="#fff" stroke="#000" stroke-width="1"/>
<rect x="1043" y="349" width="1" height="21" fill="#000"/>
<rect x="1041.5" y="349.5" width="4" height="13" fill="#fff" stroke="#000" stroke-width="1"/>
<rect x="1051" y="351" width="1" height="31" fill="#000"/>
<rect x="1049" y="351" width="5" height="22" fill="#000"/>
<rect x="1059" y="371" width="1" height="39" fill="#000"/>
<rect x="1057" y="373" width="5" height="22" fill="#000"/>
<rect x="1067" y="378" width="1" height="69" fill="#000"/>
<rect x="1065" y="392" width="5" height="55" fill="#000"/>
<rect x="1075" y="439" width="1" height="68" fill="#000"/>
<rect x="1073" y="445" width="5" height="54" fill="#000"/>
<rect x="1083" y="494" width="1" height="41" fill="#000"/>
<rect x="1081" y="499" width="5" height="15" fill="#000"/>
<rect x="1091" y="497" width="1" height="36" fill="#000"/>
<rect x="1089" y="513" width="5" height="20" fill="#000"/>
<rect x="1099" y="498" width="1" height="33" fill="#000"/>
<rect x="1097.5" y="502.5" width="4" height="28" fill="#fff" stroke="#000" stroke-width="1"/>
<rect x="1107" y="452" width="1" height="65" fill="#000"/>
<rect x="1105.5" y="471.5" width="4" height="26" fill="#fff" stroke="#000" stroke-width="1"/>
<rect x="1115" y="425" width="1" height="96" fill="#000"/>
<rect x="1113" y="470" width="5" height="38" fill="#000"/>
<rect x="1123" y="425" width="1" height="84" fill="#000"/>
<rect x="1121.5" y="467.5" width="4" height="41" fill="#fff" stroke="#000" stroke-width="1"/>
<rect x="1131" y="460" width="1" height="48" fill="#000"/>
<rect x="1129" y="468" width="5" height="9" fill="#000"/>
<rect x="1139" y="462" width="1" height="18" fill="#000"/>
<rect x="1137" y="474" width="5" height="1" fill="#000"/>
<rect x="1147" y="463" width="1" height="20" fill="#000"/>
<rect x="1145" y="464" width="5" height="15" fill="#000"/>
<rect x="1155" y="438" width="1" height="47" fill="#000"/>
<rect x="1153.5" y="446.5" width="4" height="30" fill="#fff" stroke="#000" stroke-width="1"/>
<rect x="1163" y="415" width="1" height="49" fill="#000"/>
<rect x="1161.5" y="421.5" width="4" height="26" fill="#fff" stroke="#000" stroke-width="1"/>
<rect x="1171" y="399" width="1" height="48" fill="#000"/>
<rect x="1169.5" y="404.5" width="4" height="16" fill="#fff" stroke="#000" stroke-width="1"/>
<rect x="1179" y="396" width="1" height="23" fill="#000"/>
<rect x="1177" y="404" width="5" height="9" fill="#000"/>
<rect x="1187" y="399" width="1" height="13" fill="#000"/>
<rect x="1185.5" y="401.5" width="4" height="10" fill="#fff" stroke="#000" stroke-width="1"/>
<rect x="1195" y="379" width="1" height="17" fill="#000"/>
<rect x="1193" y="385" width="5" height="11" fill="#000"/>
<rect x="1203" y="390" width="1" height="40" fill="#000"/>
<rect x="1201" y="401" width="5" height="14" fill="#000"/>
<rect x="1211" y="378" width="1" height="38" fill="#000"/>
<rect x="1209.5" y="383.5" width="4" height="28" fill="#fff" stroke="#000" stroke-width="1"/>
<rect x="1219" y="371" width="1" height="21" fill="#000"/>
<rect x="1217.5" y="379.5" width="4" height="3" fill="#fff" stroke="#000" stroke-width="1"/>
<rect x="1227" y="374" width="1" height="13" fill="#000"/>
<rect x="1225" y="380" width="5" height="1" fill="#000"/>
<rect x="1235" y="378" width="1" height="6" fill="#000"/>
<rect x="1233" y="380" width="5" height="4" fill="#000"/>
<rect x="1243" y="382" width="1" height="16" fill="#000"/>
<rect x="1241" y="382" width="5" height="14" fill="#000"/>
<rect x="1251" y="375" width="1" height="30" fill="#000"/>
<rect x="1249.5" y="382.5" width="4" height="14" fill="#fff" stroke="#000" stroke-width="1"/>
<rect x="1259" y="375" width="1" height="23" fill="#000"/>
<rect x="1257" y="380" width="5" height="13" fill="#000"/>
<rect x="1267" y="390" width="1" height="40" fill="#000"/>
<rect x="1265" y="392" width="5" height="15" fill="#000"/>
<rect x="1275" y="397" width="1" height="25" fill="#000"/>
<rect x="1273" y="406" width="5" height="9" fill="#000"/>
<rect x="1283" y="411" width="1" height="23" fill="#000"/>
<rect x="1281" y="411" width="5" height="23" fill="#000"/>
<rect x="1291" y="424" width="1" height="10" fill="#000"/>
<rect x="1289" y="429" width="5" height="1" fill="#000"/>
<rect x="1299" y="392" width="1" height="41" fill="#000"/>
<rect x="1297.5" y="396.5" width="4" height="32" fill="#fff" stroke="#000" stroke-width="1"/>
<rect x="1307" y="371" width="1" height="31" fill="#000"/>
<rect x="1305.5" y="375.5" width="4" height="20" fill="#fff" stroke="#000" stroke-width="1"/>
<rect x="1315" y="366" width="1" height="14" fill="#000"/>
<rect x="1313" y="373" width="5" height="1" fill="#000"/>
<rect x="1323" y="358" width="1" height="20" fill="#000"/>
<rect x="1321" y="374" width="5" height="3" fill="#000"/>
<rect x="1331" y="362" width="1" height="14" fill="#000"/>
<rect x="1329.5" y="362.5" width="4" height="12" fill="#fff" stroke="#000" stroke-width="1"/>
<rect x="1339" y="352" width="1" height="15" fill="#000"/>
<rect x="1337" y="355" width="5" height="12" fill="#000"/>
<rect x="1347" y="359" width="1" height="44" fill="#000"/>
<rect x="1345" y="366" width="5" height="35" fill="#000"/>
<rect x="1355" y="373" width="1" height="37" fill="#000"/>
<rect x="1353" y="398" width="5" height="3" fill="#000"/>
<rect x="1363" y="371" width="1" height="42" fill="#000"/>
<rect x="1361" y="398" width="5" height="10" fill="#000"/>
<rect x="1371" y="385" width="1" height="28" fill="#000"/>
<rect x="1369.5" y="388.5" width="4" height="20" fill="#fff" stroke="#000" stroke-width="1"/>
<rect x="1379" y="385" width="1" height="12" fill="#000"/>
<rect x="1377" y="389" width="5" height="7" fill="#000"/>
<rect x="0" y="30" width="1624" height="1" fill="#000"/>
<rect x="1623" y="30" width="1" height="554" fill="#000"/>
<rect x="0" y="583" width="1624" height="1" fill="#000"/>
<rect x="0" y="585" width="1624" height="1" fill="#000"/>
<rect x="1623" y="585" width="1" height="184" fill="#000"/>
<rect x="0" y="768" width="1624" height="1" fill="#000"/>
<rect x="0" y="770" width="1624" height="1" fill="#000"/>
<rect x="1623" y="770" width="1" height="161" fill="#000"/>
<rect x="0" y="930" width="1624" height="1" fill="#000"/>
<rect x="3" y="629" width="1" height="4" fill="#c0c0c0"/>
<rect x="11" y="629" width="1" height="4" fill="#c0c0c0"/>
<rect x="19" y="629" width="1" height="4" fill="#c0c0c0"/>
<rect x="27" y="629" width="1" height="4" fill="#c0c0c0"/>
<rect x="35" y="628" width="1" height="5" fill="#c0c0c0"/>
<rect x="43" y="628" width="1" height="5" fill="#c0c0c0"/>
<rect x="51" y="631" width="1" height="2" fill="#c0c0c0"/>
<rect x="59" y="632" width="1" height="4" fill="#c0c0c0"/>
<rect x="67" y="632" width="1" height="5" fill="#c0c0c0"/>
<rect x="75" y="632" width="1" height="7" fill="#c0c0c0"/>
<rect x="83" y="632" width="1" height="9" fill="#c0c0c0"/>
<rect x="91" y="632" width="1" height="11" fill="#c0c0c0"/>
<rect x="99" y="632" width="1" height="13" fill="#c0c0c0"/>
<rect x="107" y="632" width="1" height="14" fill="#c0c0c0"/>
<rect x="115" y="632" width="1" height="17" fill="#c0c0c0"/>
<rect x="123" y="632" width="1" height="19" fill="#c0c0c0"/>
<rect x="131" y="632" width="1" height="23" fill="#c0c0c0"/>
<rect x="139" y="632" width="1" height="25" fill="#c0c0c0"/>
<rect x="147" y="632" width="1" height="34" fill="#c0c0c0"/>
<rect x="155" y="632" width="1" height="39" fill="#c0c0c0"/>
<rect x="163" y="632" width="1" height="43" fill="#c0c0c0"/>
<rect x="171" y="632" width="1" height="45" fill="#c0c0c0"/>
<rect x="179" y="632" width="1" height="45" fill="#c0c0c0"/>
<rect x="187" y="632" width="1" height="45" fill="#c0c0c0"/>
<rect x="195" y="632" width="1" height="37" fill="#c0c0c0"/>
<rect x="203" y="632" width="1" height="32" fill="#c0c0c0"/>
<rect x="211" y="632" width="1" height="28" fill="#c0c0c0"/>
<rect x="219" y="632" width="1" height="24" fill="#c0c0c0"/>
<rect x="227" y="632" width="1" height="22" fill="#c0c0c0"/>
<rect x="235" y="632" width="1" height="18" fill="#c0c0c0"/>
<rect x="243" y="632" width="1" height="15" fill="#c0c0c0"/>
<rect x="251" y="632" width="1" height="12" fill="#c0c0c0"/>
<rect x="259" y="632" width="1" height="10" fill="#c0c0c0"/>
<rect x="267" y="632" width="1" height="7" fill="#c0c0c0"/>
<rect x="275" y="632" width="1" height="4" fill="#c0c0c0"/>
<rect x="283" y="632" width="1" height="3" fill="#c0c0c0"/>
<rect x="291" y="625" width="1" height="8" fill="#c0c0c0"/>
<rect x="299" y="618" width="1" height="15" fill="#c0c0c0"/>
<rect x="307" y="613" width="1" height="20" fill="#c0c0c0"/>
<rect x="315" y="607" width="1" height="26" fill="#c0c0c0"/>
<rect x="323" y="604" width="1" height="29" fill="#c0c0c0"/>
<rect x="331" y="600" width="1" height="33" fill="#c0c0c0"/>
<rect x="339" y="598" width="1" height="35" fill="#c0c0c0"/>
<rect x="347" y="598" width="1" height="35" fill="#c0c0c0"/>
<rect x="355" y="599" width="1" height="34" fill="#c0c0c0"/>
<rect x="363" y="598" width="1" height="35" fill="#c0c0c0"/>
<rect x="371" y="596" width="1" height="37" fill="#c0c0c0"/>
<rect x="379" y="595" width="1" height="38" fill="#c0c0c0"/>
<rect x="387" y="595" width="1" height="38" fill="#c0c0c0"/>
<rect x="395" y="597" width="1" height="36" fill="#c0c0c0"/>
<rect x="403" y="600" width="1" height="33" fill="#c0c0c0"/>
<rect x="411" y="603" width="1" height="30" fill="#c0c0c0"/>
<rect x="419" y="607" width="1" height="26" fill="#c0c0c0"/>
<rect x="427" y="609" width="1" height="24" fill="#c0c0c0"/>
<rect x="435" y="612" width="1" height="21" fill="#c0c0c0"/>
<rect x="443" y="615" width="1" height="18" fill="#c0c0c0"/>
<rect x="451" y="616" width="1" height="17" fill="#c0c0c0"/>
<rect x="459" y="617" width="1" height="16" fill="#c0c0c0"/>
<rect x="467" y="618" width="1" height="15" fill="#c0c0c0"/>
<rect x="475" y="620" width="1" height="13" fill="#c0c0c0"/>
<rect x="483" y="624" width="1" height="9" fill="#c0c0c0"/>
<rect x="491" y="626" width="1" height="7" fill="#c0c0c0"/>
<rect x="499" y="627" width="1" height="6" fill="#c0c0c0"/>
<rect x="507" y="628" width="1" height="5" fill="#c0c0c0"/>
<rect x="515" y="628" width="1" height="5" fill="#c0c0c0"/>
<rect x="523" y="627" width="1" height="6" fill="#c0c0c0"/>
<rect x="531" y="627" width="1" height="6" fill="#c0c0c0"/>
<rect x="539" y="629" width="1" height="4" fill="#c0c0c0"/>
<rect x="547" y="632" width="1" height="2" fill="#c0c0c0"/>
<rect x="555" y="632" width="1" height="5" fill="#c0c0c0"/>
<rect x="563" y="632" width="1" height="7" fill="#c0c0c0"/>
<rect x="571" y="632" width="1" height="9" fill="#c0c0c0"/>
<rect x="579" y="632" width="1" height="9" fill="#c0c0c0"/>
<rect x="587" y="632" width="1" height="10" fill="#c0c0c0"/>
<rect x="595" y="632" width="1" height="10" fill="#c0c0c0"/>
<rect x="603" y="632" width="1" height="15" fill="#c0c0c0"/>
<rect x="611" y="632" width="1" height="20" fill="#c0c0c0"/>
<rect x="619" y="632" width="1" height="23" fill="#c0c0c0"/>
<rect x="627" y="632" width="1" height="20" fill="#c0c0c0"/>
<rect x="635" y="632" width="1" height="17" fill="#c0c0c0"/>
<rect x="643" y="632" width="1" height="15" fill="#c0c0c0"/>
<rect x="651" y="632" width="1" height="26" fill="#c0c0c0"/>
<rect x="659" y="632" width="1" height="35" fill="#c0c0c0"/>
<rect x="667" y="632" width="1" height="41" fill="#c0c0c0"/>
<rect x="675" y="632" width="1" height="49" fill="#c0c0c0"/>
<rect x="683" y="632" width="1" height="55" fill="#c0c0c0"/>
<rect x="691" y="632" width="1" height="65" fill="#c0c0c0"/>
<rect x="699" y="632" width="1" height="70" fill="#c0c0c0"/>
<rect x="707" y="632" width="1" height="72" fill="#c0c0c0"/>
<rect x="715" y="632" width="1" height="72" fill="#c0c0c0"/>
<rect x="723" y="632" width="1" height="82" fill="#c0c0c0"/>
<rect x="731" y="632" width="1" height="88" fill="#c0c0c0"/>
<rect x="739" y="632" width="1" height="99" fill="#c0c0c0"/>
<rect x="747" y="632" width="1" height="109" fill="#c0c0c0"/>
<rect x="755" y="632" width="1" height="117" fill="#c0c0c0"/>
<rect x="763" y="632" width="1" height="128" fill="#c0c0c0"/>
<rect x="771" y="632" width="1" height="121" fill="#c0c0c0"/>
<rect x="779" y="632" width="1" height="112" fill="#c0c0c0"/>
<rect x="787" y="632" width="1" height="107" fill="#c0c0c0"/>
<rect x="795" y="632" width="1" height="99" fill="#c0c0c0"/>
<rect x="803" y="632" width="1" height="88" fill="#c0c0c0"/>
<rect x="811" y="632" width="1" height="83" fill="#c0c0c0"/>
<rect x="819" y="632" width="1" height="79" fill="#c0c0c0"/>
<rect x="827" y="632" width="1" height="71" fill="#c0c0c0"/>
<rect x="835" y="632" width="1" height="68" fill="#c0c0c0"/>
<rect x="843" y="632" width="1" height="63" fill="#c0c0c0"/>
<rect x="851" y="632" width="1" height="57" fill="#c0c0c0"/>
<rect x="859" y="632" width="1" height="53" fill="#c0c0c0"/>
<rect x="867" y="632" width="1" height="46" fill="#c0c0c0"/>
<rect x="875" y="632" width="1" height="42" fill="#c0c0c0"/>
<rect x="883" y="632" width="1" height="35" fill="#c0c0c0"/>
<rect x="891" y="632" width="1" height="28" fill="#c0c0c0"/>
<rect x="899" y="632" width="1" height="20" fill="#c0c0c0"/>
<rect x="907" y="632" width="1" height="15" fill="#c0c0c0"/>
<rect x="915" y="632" width="1" height="13" fill="#c0c0c0"/>
<rect x="923" y="632" width="1" height="14" fill="#c0c0c0"/>
<rect x="931" y="632" width="1" height="17" fill="#c0c0c0"/>
<rect x="939" y="632" width="1" height="19" fill="#c0c0c0"/>
<rect x="947" y="632" width="1" height="21" fill="#c0c0c0"/>
<rect x="955" y="632" width="1" height="26" fill="#c0c0c0"/>
<rect x="963" y="632" width="1" height="25" fill="#c0c0c0"/>
<rect x="971" y="632" width="1" height="30" fill="#c0c0c0"/>
<rect x="979" y="632" width="1" height="33" fill="#c0c0c0"/>
<rect x="987" y="632" width="1" height="39" fill="#c0c0c0"/>
<rect x="995" y="632" width="1" height="41" fill="#c0c0c0"/>
<rect x="1003" y="632" width="1" height="40" fill="#c0c0c0"/>
<rect x="1011" y="632" width="1" height="37" fill="#c0c0c0"/>
<rect x="1019" y="632" width="1" height="39" fill="#c0c0c0"/>
<rect x="1027" y="632" width="1" height="27" fill="#c0c0c0"/>
<rect x="1035" y="632" width="1" height="17" fill="#c0c0c0"/>
<rect x="1043" y="632" width="1" height="7" fill="#c0c0c0"/>
<rect x="1051" y="632" width="1" height="2" fill="#c0c0c0"/>
<rect x="1059" y="631" width="1" height="2" fill="#c0c0c0"/>
<rect x="1067" y="632" width="1" height="4" fill="#c0c0c0"/>
<rect x="1075" y="632" width="1" height="14" fill="#c0c0c0"/>
<rect x="1083" y="632" width="1" height="22" fill="#c0c0c0"/>
<rect x="1091" y="632" width="1" height="31" fill="#c0c0c0"/>
<rect x="1099" y="632" width="1" height="34" fill="#c0c0c0"/>
<rect x="1107" y="632" width="1" height="33" fill="#c0c0c0"/>
<rect x="1115" y="632" width="1" height="35" fill="#c0c0c0"/>
<rect x="1123" y="632" width="1" height="33" fill="#c0c0c0"/>
<rect x="1131" y="632" width="1" height="31" fill="#c0c0c0"/>
<rect x="1139" y="632" width="1" height="29" fill="#c0c0c0"/>
<rect x="1147" y="632" width="1" height="28" fill="#c0c0c0"/>
<rect x="1155" y="632" width="1" height="23" fill="#c0c0c0"/>
<rect x="1163" y="632" width="1" height="16" fill="#c0c0c0"/>
<rect x="1171" y="632" width="1" height="9" fill="#c0c0c0"/>
<rect x="1179" y="632" width="1" height="4" fill="#c0c0c0"/>
<rect x="1187" y="630" width="1" height="3" fill="#c0c0c0"/>
<rect x="1195" y="625" width="1" height="8" fill="#c0c0c0"/>
<rect x="1203" y="624" width="1" height="9" fill="#c0c0c0"/>
<rect x="1211" y="619" width="1" height="14" fill="#c0c0c0"/>
<rect x="1219" y="615" width="1" height="18" fill="#c0c0c0"/>
<rect x="1227" y="613" width="1" height="20" fill="#c0c0c0"/>
<rect x="1235" y="611" width="1" height="22" fill="#c0c0c0"/>
<rect x="1243" y="611" width="1" height="22" fill="#c0c0c0"/>
<rect x="1251" y="611" width="1" height="22" fill="#c0c0c0"/>
<rect x="1259" y="611" width="1" height="22" fill="#c0c0c0"/>
<rect x="1267" y="613" width="1" height="20" fill="#c0c0c0"/>
<rect x="1275" y="616" width="1" height="17" fill="#c0c0c0"/>
<rect x="1283" y="621" width="1" height="12" fill="#c0c0c0"/>
<rect x="1291" y="624" width="1" height="9" fill="#c0c0c0"/>
<rect x="1299" y="623" width="1" height="10" fill="#c0c0c0"/>
<rect x="1307" y="620" width="1" height="13" fill="#c0c0c0"/>
<rect x="1315" y="618" width="1" height="15" fill="#c0c0c0"/>
<rect x="1323" y="616" width="1" height="17" fill="#c0c0c0"/>
<rect x="1331" y="614" width="1" height="19" fill="#c0c0c0"/>
<rect x="1339" y="612" width="1" height="21" fill="#c0c0c0"/>
<rect x="1347" y="615" width="1" height="18" fill="#c0c0c0"/>
<rect x="1355" y="618" width="1" height="15" fill="#c0c0c0"/>
<rect x="1363" y="621" width="1" height="12" fill="#c0c0c0"/>
<rect x="1371" y="621" width="1" height="12" fill="#c0c0c0"/>
<rect x="1379" y="622" width="1" height="11" fill="#c0c0c0"/>
<polyline points="-5.0,629.5 3.0,629.0 11.0,628.8 19.0,628.7 27.0,628.8 35.0,629.0 43.0,629.2 51.0,629.7 59.0,630.4 67.0,631.0 75.0,632.0 83.0,633.2 91.0,634.7 99.0,636.4 107.0,638.3 115.0,640.5 123.0,642.6 131.0,644.6 139.0,646.8 147.0,649.7 155.0,653.1 163.0,656.8 171.0,660.3 179.0,663.6 187.0,666.7 195.0,668.8 203.0,669.9 211.0,670.2 219.0,669.1 227.0,667.2 235.0,664.5 243.0,661.2 251.0,657.5 259.0,653.6 267.0,650.3 275.0,647.1 283.0,644.3 291.0,641.0 299.0,637.1 307.0,633.0 315.0,628.7 323.0,624.4 331.0,619.9 339.0,615.4 347.0,611.3 355.0,607.5 363.0,604.4 371.0,602.0 379.0,600.0 387.0,598.7 395.0,597.9 403.0,597.9 411.0,598.4 419.0,599.4 427.0,600.6 435.0,602.2 443.0,604.2 451.0,606.6 459.0,609.1 467.0,611.4 475.0,613.6 483.0,615.9 491.0,618.0 499.0,620.0 507.0,621.7 515.0,623.2 523.0,624.4 531.0,625.4 539.0,626.6 547.0,628.0 555.0,629.3 563.0,630.7 571.0,632.1 579.0,633.5 587.0,634.9 595.0,636.5 603.0,638.7 611.0,641.1 619.0,643.6 627.0,645.3 635.0,646.4 643.0,647.0 651.0,648.9 659.0,651.7 667.0,655.2 675.0,658.9 683.0,662.7 691.0,667.3 699.0,672.9 707.0,679.1 715.0,685.5 723.0,691.7 731.0,697.5 739.0,703.9 747.0,710.7 755.0,717.6 763.0,724.6 771.0,730.2 779.0,734.7 787.0,738.6 795.0,740.5 803.0,740.6 811.0,738.8 819.0,735.4 827.0,730.3 835.0,723.6 843.0,717.2 851.0,711.0 859.0,705.0 867.0,699.1 875.0,694.0 883.0,688.7 891.0,683.0 899.0,677.4 907.0,671.5 915.0,666.0 923.0,661.3 931.0,657.3 939.0,654.3 947.0,652.0 955.0,650.9 963.0,650.6 971.0,651.7 979.0,653.6 987.0,656.4 995.0,659.5 1003.0,662.0 1011.0,664.1 1019.0,666.0 1027.0,666.2 1035.0,665.2 1043.0,662.6 1051.0,659.1 1059.0,654.8 1067.0,650.7 1075.0,647.8 1083.0,646.1 1091.0,645.2 1099.0,646.0 1107.0,647.8 1115.0,651.0 1123.0,654.5 1131.0,658.0 1139.0,660.7 1147.0,662.3 1155.0,662.4 1163.0,660.8 1171.0,658.0 1179.0,654.8 1187.0,650.7 1195.0,646.4 1203.0,642.1 1211.0,637.6 1219.0,632.7 1227.0,628.1 1235.0,624.1 1243.0,620.9 1251.0,618.2 1259.0,616.1 1267.0,614.8 1275.0,614.0 1283.0,614.2 1291.0,615.1 1299.0,616.3 1307.0,617.3 1315.0,618.0 1323.0,618.6 1331.0,618.9 1339.0,618.8 1347.0,618.6 1355.0,618.3 1363.0,618.0 1371.0,617.7 1379.0,618.0" fill="none" stroke="#ff0000" stroke-width="1" stroke-dasharray="3 3"/>
<line x1="0" y1="803.5" x2="1623" y2="803.5" stroke="#c0c0c0" stroke-width="1" stroke-dasharray="3 3"/>
<line x1="0" y1="850.5" x2="1623" y2="850.5" stroke="#c0c0c0" stroke-width="1" stroke-dasharray="3 3"/>
<line x1="0" y1="906.5" x2="1623" y2="906.5" stroke="#c0c0c0" stroke-width="1" stroke-dasharray="3 3"/>
<polyline points="-4.5,864.1 3.5,840.4 11.5,844.9 19.5,845.0 27.5,847.5 35.5,845.2 43.5,845.0 51.5,864.2 59.5,873.7 67.5,861.9 75.5,864.3 83.5,867.8 91.5,868.6 99.5,876.0 107.5,869.4 115.5,879.1 123.5,872.6 131.5,883.2 139.5,880.8 147.5,897.1 155.5,892.2 163.5,892.3 171.5,884.1 179.5,879.2 187.5,882.6 195.5,846.6 203.5,854.0 211.5,852.5 219.5,850.0 227.5,857.9 235.5,849.1 243.5,848.5 251.5,846.8 259.5,849.0 267.5,846.1 275.5,843.1 283.5,845.8 291.5,824.9 299.5,822.9 307.5,823.2 315.5,819.7 323.5,823.7 331.5,820.2 339.5,823.2 347.5,830.4 355.5,830.1 363.5,824.8 371.5,822.0 379.5,820.1 387.5,821.6 395.5,834.7 403.5,838.0 411.5,844.0 419.5,848.0 427.5,841.0 435.5,846.7 443.5,846.8 451.5,845.4 459.5,841.5 467.5,842.0 475.5,848.0 483.5,861.8 491.5,853.9 499.5,852.0 507.5,848.4 515.5,847.1 523.5,841.6 531.5,843.3 539.5,857.3 547.5,867.2 555.5,867.4 563.5,868.8 571.5,865.4 579.5,861.7 587.5,862.4 595.5,863.1 603.5,884.3 611.5,887.0 619.5,885.9 627.5,851.4 635.5,849.0 643.5,853.1 651.5,886.3 659.5,888.2 667.5,883.7 675.5,888.6 683.5,890.3 691.5,897.3 699.5,891.8 707.5,883.9 715.5,883.0 723.5,895.7 731.5,895.9 739.5,901.8 747.5,904.2 755.5,904.8 763.5,908.4 771.5,869.9 779.5,867.8 787.5,871.2 795.5,864.5 803.5,859.0 811.5,864.0 819.5,867.1 827.5,857.9 835.5,864.2 843.5,858.9 851.5,857.4 859.5,860.2 867.5,853.3 875.5,856.6 883.5,849.9 891.5,847.0 899.5,844.0 907.5,846.9 915.5,851.2 923.5,856.4 931.5,861.6 939.5,861.3 947.5,863.1 955.5,868.3 963.5,858.5 971.5,869.6 979.5,866.8 987.5,873.0 995.5,870.1 1003.5,861.2 1011.5,859.2 1019.5,866.8 1027.5,840.4 1035.5,838.8 1043.5,836.9 1051.5,842.4 1059.5,847.6 1067.5,858.5 1075.5,867.2 1083.5,869.6 1091.5,872.4 1099.5,864.9 1107.5,857.6 1115.5,863.8 1123.5,855.1 1131.5,856.8 1139.5,856.3 1147.5,857.0 1155.5,849.5 1163.5,843.9 1171.5,840.2 1179.5,842.4 1187.5,840.1 1195.5,838.5 1203.5,844.3 1211.5,837.1 1219.5,836.3 1227.5,836.5 1235.5,837.7 1243.5,841.9 1251.5,838.4 1259.5,842.1 1267.5,847.5 1275.5,850.2 1283.5,856.9 1291.5,855.5 1299.5,843.5 1307.5,837.0 1315.5,836.4 1323.5,837.8 1331.5,833.3 1339.5,835.2 1347.5,849.9 1355.5,849.8 1363.5,853.0 1371.5,845.2 1379.5,848.3" fill="none" stroke="#1e90ff" stroke-width="1" />
<rect x="1624" y="52" width="3" height="1" fill="#000"/>
<rect x="1624" y="85" width="3" height="1" fill="#000"/>
<rect x="1624" y="118" width="3" height="1" fill="#000"/>
<rect x="1624" y="151" width="3" height="1" fill="#000"/>
<rect x="1624" y="184" width="3" height="1" fill="#000"/>
<rect x="1624" y="217" width="3" height="1" fill="#000"/>
<rect x="1624" y="250" width="3" height="1" fill="#000"/>
<rect x="1624" y="283" width="3" height="1" fill="#000"/>
<rect x="1624" y="316" width="3" height="1" fill="#000"/>
<rect x="1624" y="349" width="3" height="1" fill="#000"/>
<rect x="1624" y="382" width="3" height="1" fill="#000"/>
<rect x="1624" y="481" width="3" height="1" fill="#000"/>
<rect x="1624" y="514" width="3" height="1" fill="#000"/>
<rect x="1624" y="547" width="3" height="1" fill="#000"/>
<rect x="1624" y="580" width="3" height="1" fill="#000"/>
<rect x="1624" y="415" width="3" height="1" fill="#000"/>
<rect x="1624" y="448" width="3" height="1" fill="#000"/>
<rect x="1624" y="587" width="2" height="1" fill="#000"/>
<rect x="1624" y="632" width="2" height="1" fill="#000"/>
<rect x="1624" y="767" width="2" height="1" fill="#000"/>
<rect x="1624" y="772" width="2" height="1" fill="#000"/>
<rect x="1624" y="929" width="2" height="1" fill="#000"/>
<rect x="59" y="931" width="1" height="3" fill="#000"/>
<rect x="123" y="931" width="1" height="3" fill="#000"/>
<rect x="187" y="931" width="1" height="3" fill="#000"/>
<rect x="251" y="931" width="1" height="3" fill="#000"/>
<rect x="315" y="931" width="1" height="3" fill="#000"/>
<rect x="379" y="931" width="1" height="3" fill="#000"/>
<rect x="443" y="931" width="1" height="3" fill="#000"/>
<rect x="507" y="931" width="1" height="3" fill="#000"/>
<rect x="571" y="931" width="1" height="3" fill="#000"/>
<rect x="635" y="931" width="1" height="3" fill="#000"/>
<rect x="699" y="931" width="1" height="3" fill="#000"/>
<rect x="763" y="931" width="1" height="3" fill="#000"/>
<rect x="827" y="931" width="1" height="3" fill="#000"/>
<rect x="891" y="931" width="1" height="3" fill="#000"/>
<rect x="955" y="931" width="1" height="3" fill="#000"/>
<rect x="1019" y="931" width="1" height="3" fill="#000"/>
<rect x="1083" y="931" width="1" height="3" fill="#000"/>
<rect x="1147" y="931" width="1" height="3" fill="#000"/>
<rect x="1211" y="931" width="1" height="3" fill="#000"/>
<rect x="1275" y="931" width="1" height="3" fill="#000"/>
<rect x="1339" y="931" width="1" height="3" fill="#000"/>
<text x="1628" y="419">20510.0</text>
<text x="1628" y="452">20393.5</text>
<rect x="1625" y="333" width="41" height="11" fill="#ff0000"/>
<rect x="1625" y="361" width="41" height="11" fill="#ff0000"/>
<rect x="1625" y="390" width="41" height="11" fill="#000"/>
<rect x="1625" y="409" width="41" height="11" fill="#32cd32"/>
<rect x="1625" y="428" width="41" height="11" fill="#0000ff"/>
<rect x="1625" y="446" width="41" height="11" fill="#0000ff"/>
<path d="M0.5,40.5 L3,37 L5.5,40.5 Z" fill="#000"/>
<path d="M1389,31 L1398,31 L1393.5,36 Z" fill="#c0c0c0" shape-rendering="geometricPrecision"/>
<rect x="1476" y="415" width="8" height="1" fill="#ff0000"/>
<rect x="1483.5" y="413.5" width="3" height="3" fill="#fff" stroke="#ff0000" stroke-width="1"/>
<rect x="1486.5" y="399.5" width="99" height="32" fill="#fff" stroke="#ff0000" stroke-width="1"/>
<g text-rendering="geometricPrecision"><text x="1628" y="56">21804.5</text>
<text x="1628" y="89">21689.0</text>
<text x="1628" y="122">21570.0</text>
<text x="1628" y="155">21451.0</text>
<text x="1628" y="188">21335.5</text>
<text x="1628" y="221">21216.5</text>
<text x="1628" y="254">21097.5</text>
<text x="1628" y="287">20982.0</text>
<text x="1628" y="320">20863.0</text>
<text x="1628" y="353">20744.0</text>
<text x="1628" y="386">20628.5</text>
<text x="1628" y="485">20275.0</text>
<text x="1628" y="518">20156.0</text>
<text x="1628" y="551">20037.0</text>
<text x="1628" y="584">19921.5</text>
<text x="1629" y="342" style="fill:#fff;stroke:#fff">20780.9</text>
<text x="1629" y="370" style="fill:#fff;stroke:#fff">20681.1</text>
<text x="1629" y="399" style="fill:#fff;stroke:#fff">20580.0</text>
<text x="1629" y="418" style="fill:#fff;stroke:#fff">20510.0</text>
<text x="1629" y="437" style="fill:#fff;stroke:#fff">20442.2</text>
<text x="1629" y="455" style="fill:#fff;stroke:#fff">20378.0</text>
<text x="1627" y="595">117.29</text>
<text x="1627" y="636">0.00</text>
<text x="1627" y="765">-349.58</text>
<text x="1627" y="780">100</text>
<text x="1626" y="807.5">80</text>
<text x="1626" y="854.5">50</text>
<text x="1626" y="910">15</text>
<text x="1627" y="927">0</text>
<text x="-8" y="943">14 Jul 2019</text>
<text x="57.6" y="943">16 Jul 04:00</text>
<text x="121.6" y="943">17 Jul 14:55</text>
<text x="185.6" y="943">18 Jul 23:30</text>
<text x="249.6" y="943">22 Jul 04:00</text>
<text x="313.6" y="943">23 Jul 14:55</text>
<text x="377.6" y="943">24 Jul 23:30</text>
<text x="441.6" y="943">26 Jul 04:00</text>
<text x="505.6" y="943">29 Jul 14:55</text>
<text x="569.6" y="943">30 Jul 23:30</text>
<text x="633.6" y="943">1 Aug 04:00</text>
<text x="697.6" y="943">2 Aug 14:55</text>
<text x="761.6" y="943">5 Aug 23:30</text>
<text x="825.6" y="943">7 Aug 04:00</text>
<text x="889.6" y="943">8 Aug 14:55</text>
<text x="953.6" y="943">11 Aug 23:30</text>
<text x="1017.6" y="943">13 Aug 04:00</text>
<text x="1081.6" y="943">14 Aug 14:55</text>
<text x="1145.6" y="943">15 Aug 23:30</text>
<text x="1209.6" y="943">19 Aug 04:00</text>
<text x="1273.6" y="943">20 Aug 14:55</text>
<text x="1337.6" y="943">21 Aug 23:30</text>
<text x="9" y="42">JPN225-,H4&#160; 20602.5 20617.5 20577.5 20580.0</text>
<text x="0" y="598">MACD(12,26,9) 25.28 37.77</text>
<text x="0" y="783">RSI(14) 51.2857</text>
<text x="1486.5" y="426" style="font-size:27.5px;fill:#ff0000;stroke:none;letter-spacing:-0.3px">20510.0</text>
<text x="1341" y="506" style="font-family:'Liberation Serif','Noto Serif CJK SC',serif;font-size:32px;font-weight:600;fill:#000;stroke:none;letter-spacing:0">多空转折点</text>
<text x="1340" y="505" style="font-family:'Liberation Serif','Noto Serif CJK SC',serif;font-size:32px;font-weight:600;fill:#00ff00;stroke:none;letter-spacing:0">多空转折点</text></g>
</svg>
<div class="rc"></div>

<div id="pn">
 <div class="sb sell"><span>SELL</span><i></i></div>
 <div class="spin"><div class="bl"><b class="dn"></b></div><div class="inp">1.00</div><div class="br"><b class="up"></b></div></div>
 <div class="sb buy"><span>BUY</span><i></i></div>
 <div class="big l"><span class="n">20578</span><span class="d">.5</span></div>
 <div class="big r"><span class="n">20601</span><span class="d">.5</span></div>
</div>

</body></html>
